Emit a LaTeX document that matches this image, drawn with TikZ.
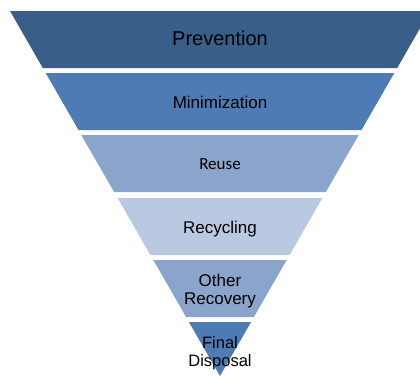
\documentclass[tikz,border=0pt]{standalone}
\usepackage{fontspec}
\setmainfont{Liberation Sans}
\newfontfamily\reusefont{Carlito}
\usepackage{tikz}
\usetikzlibrary{positioning}
\definecolor{layerdark}{HTML}{3A5E8A}
\definecolor{layermid}{HTML}{4F7BB5}
\definecolor{layerlight}{HTML}{8AA4CB}
\definecolor{layerpale}{HTML}{B9C9E2}
\tikzset{
  layerlabel/.style={inner sep=0pt, text=black, align=center}
}

\begin{document}
\begin{tikzpicture}[x=1pt, y=1pt]
  \useasboundingbox (-220,0) rectangle (200,376);
  \clip (-220,0) rectangle (200,376);

  % Layers (apex at the origin)
  \fill[layerdark] (-210,365) -- (210,365) -- (177.2,308) -- (-177.2,308) -- cycle;
  \fill[layermid] (-174.3,303) -- (174.3,303) -- (141.5,246) -- (-141.5,246) -- cycle;
  \fill[layerlight] (-138.7,241) -- (138.7,241) -- (105.9,184) -- (-105.9,184) -- cycle;
  \fill[layerpale] (-102.4,178) -- (102.4,178) -- (69.6,121) -- (-69.6,121) -- cycle;
  \fill[layerlight] (-66.7,116) -- (66.7,116) -- (33.9,59) -- (-33.9,59) -- cycle;
  \fill[layermid] (-31.1,54) -- (31.1,54) -- (0,0) -- cycle;

  % Labels
  \node[layerlabel, anchor=base, font=\fontsize{20}{23}\selectfont] (prevention) at (0,331) {Prevention};
  \node[layerlabel, anchor=base, font=\fontsize{17}{20}\selectfont] (minimization) at (0,268) {Minimization};
  \node[layerlabel, anchor=base, font=\reusefont\fontsize{17}{20}\selectfont] (reuse) at (0,207) {Reuse};
  \node[layerlabel, anchor=base, font=\fontsize{17}{20}\selectfont] (recycling) at (0,143) {Recycling};
  \node[layerlabel, font=\fontsize{17}{18}\selectfont] (recovery) at (0,84.7) {Other\\Recovery};
  \node[layerlabel, font=\fontsize{16.5}{18.5}\selectfont] (disposal) at (0,23) {Final\\Disposal};

\end{tikzpicture}
\end{document}
